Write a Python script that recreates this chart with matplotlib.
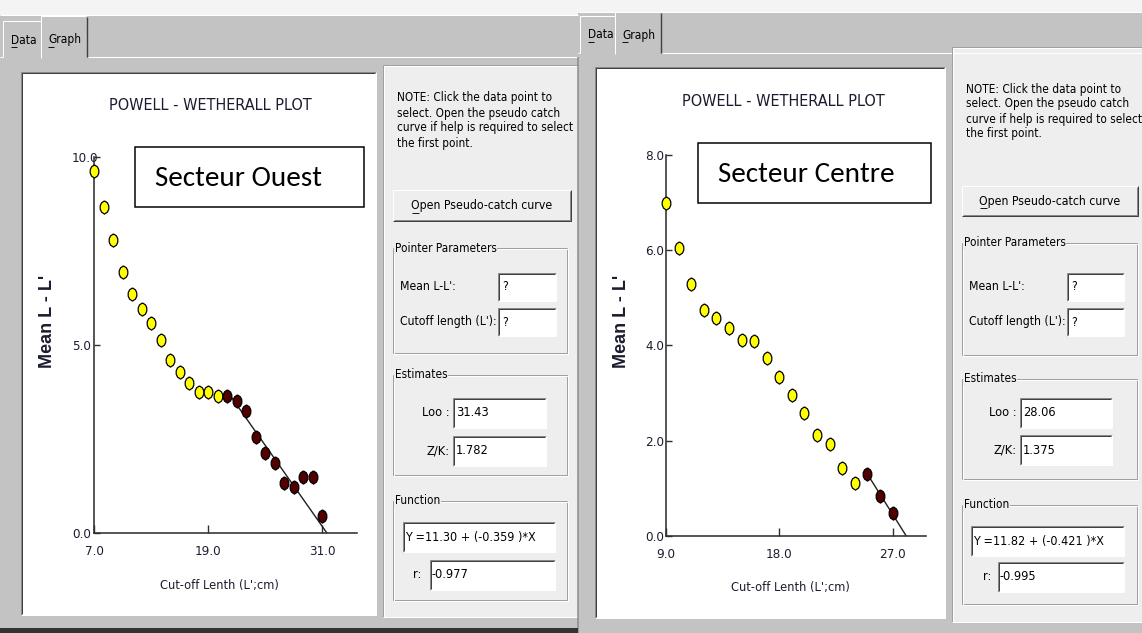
import os
import matplotlib
matplotlib.use("Agg")
import matplotlib.pyplot as plt
from matplotlib.patches import Rectangle
from matplotlib import font_manager as fm

# ---------------------------------------------------------------------------
# Powell-Wetherall data: cut-off length L' (cm) against mean L - L' (cm)
# ---------------------------------------------------------------------------
ouest_cutoff = [7, 8, 9, 10, 11, 12, 13, 14, 15, 16, 17, 18, 19, 20,
                21, 22, 23, 24, 25, 26, 27, 28, 29, 30, 31]
ouest_mean = [9.62, 8.67, 7.78, 6.93, 6.34, 5.94, 5.57, 5.12, 4.59, 4.27,
              3.97, 3.73, 3.73, 3.64, 3.64, 3.50, 3.25, 2.55, 2.13, 1.85,
              1.31, 1.21, 1.47, 1.47, 0.45]
ouest_first_selected = 21
ouest_intercept = 11.30
ouest_slope = -0.359
ouest_loo = "31.43"
ouest_zk = "1.782"
ouest_r = "-0.977"
ouest_xticks = [7.0, 19.0, 31.0]
ouest_yticks = [0.0, 5.0, 10.0]

centre_cutoff = [9, 10, 11, 12, 13, 14, 15, 16, 17, 18, 19, 20, 21, 22,
                 23, 24, 25, 26, 27]
centre_mean = [6.98, 6.05, 5.28, 4.74, 4.58, 4.37, 4.11, 4.09, 3.73, 3.34,
               2.96, 2.57, 2.12, 1.92, 1.42, 1.10, 1.30, 0.84, 0.48]
centre_first_selected = 25
centre_intercept = 11.82
centre_slope = -0.421
centre_loo = "28.06"
centre_zk = "1.375"
centre_r = "-0.995"
centre_xticks = [9.0, 18.0, 27.0]
centre_yticks = [0.0, 2.0, 4.0, 6.0, 8.0]


# ---------------------------------------------------------------------------
# fonts: a narrow sans for the dialog texts, if one is installed
# ---------------------------------------------------------------------------
def find_file(prefixes):
    entries = [(os.path.basename(f.fname).replace(" ", "").replace("_", ""), f.fname)
               for f in fm.fontManager.ttflist]
    skip = ("bold", "italic", "oblique", "light", "thin", "semi", "extra",
            "black", "medium")
    for p in prefixes:
        for base, path in entries:
            if base.startswith(p) and not any(k in base.lower() for k in skip):
                return path
    return None


NARROW_FILE = find_file(["LiberationSansNarrow", "ArialNarrow", "DejaVuSansCondensed",
                         "NotoSans-Condensed", "NotoSansCondensed", "OpenSans-Condensed",
                         "OpenSansCondensed", "RobotoCondensed", "Roboto-Condensed"])


def narrow(size):
    if NARROW_FILE:
        return fm.FontProperties(fname=NARROW_FILE, size=size)
    return fm.FontProperties(family="Liberation Sans", size=size * 1.02)


def pick_family(names):
    for n in names:
        try:
            fm.findfont(fm.FontProperties(family=n), fallback_to_default=False)
            return n
        except Exception:
            pass
    return "DejaVu Sans"


LABEL = pick_family(["Carlito", "Lato", "Open Sans"])

W, H = 1142, 633
PT = 0.72  # points per pixel at 100 dpi

GRAY = "#c3c3c3"
PANEL = "#eeeeee"
LIGHT = "#f4f4f4"
DARK = "#404040"
MID = "#8a8a8a"
INK = "#1c1c30"

fig = plt.figure(figsize=(W / 100, H / 100), dpi=100)
bg = fig.add_axes([0, 0, 1, 1])
bg.set_xlim(0, W)
bg.set_ylim(H, 0)
bg.axis("off")


def rect(x0, y0, x1, y1, fc, ec="none", lw=0, z=1):
    bg.add_patch(Rectangle((x0, y0), x1 - x0, y1 - y0, facecolor=fc,
                           edgecolor=ec, linewidth=lw, zorder=z))


def line(xs, ys, c, lw=1, z=2):
    bg.plot(xs, ys, color=c, lw=lw * PT, solid_capstyle="butt", zorder=z)


def txt(x, y, s, size=8.5, ha="left", z=6, **kw):
    return bg.text(x, y, s, fontproperties=narrow(size), ha=ha, va="center",
                   zorder=z, **kw)


def sunken(x0, y0, x1, y1, fc="white"):
    rect(x0, y0, x1, y1, fc, z=2)
    line([x0, x0, x1], [y1, y0, y0], MID, 1, 3)
    line([x0 + 1, x0 + 1, x1 - 1], [y1 - 1, y0 + 1, y0 + 1], DARK, 1, 3)
    line([x0, x1, x1], [y1, y1, y0], "white", 1, 3)


def raised(x0, y0, x1, y1, fc):
    rect(x0, y0, x1, y1, fc, z=2)
    line([x0, x0, x1], [y1, y0, y0], "white", 1, 3)
    line([x0, x1, x1], [y1, y1, y0], DARK, 1, 3)
    line([x0 + 1, x1 - 1, x1 - 1], [y1 - 1, y1 - 1, y0 + 1], MID, 1, 3)


def group(x0, y0, x1, y1, label):
    for off, c in ((0, "#a0a0a0"), (1, "white")):
        bg.add_patch(Rectangle((x0 + off, y0 + off), x1 - x0, y1 - y0,
                               facecolor="none", edgecolor=c,
                               linewidth=PT, zorder=3))
    txt(x0 + 2, y0, label, 8.5, z=5,
        bbox=dict(boxstyle="square,pad=0.05", fc=PANEL, ec="none"))


def draw_window(p):
    x0, x1 = p["x"]
    # title strip and tab bar
    rect(x0, 0, x1, H, GRAY, z=0)
    rect(x0, 0, x1, p["strip"], LIGHT, z=1)
    line([x0, x1], [p["strip"], p["strip"]], "white", 1)
    dx0, dx1, gx1 = p["tabs"]
    line([gx1, x1], [p["tabline"], p["tabline"]], "white", 1)
    line([x0, dx0], [p["tabline"], p["tabline"]], "white", 1)
    ty_d, ty_g = p["tabtop"]
    line([dx0, dx0, dx1], [p["tabline"], ty_d, ty_d], "white", 1)
    line([dx1, dx1, gx1 - 2], [p["tabline"] + 1, ty_g, ty_g], "white", 1)
    line([gx1 - 1, gx1 - 1], [ty_g + 1, p["tabline"]], DARK, 1.4)
    ty = p["tabtext"]
    txt(dx0 + 8, ty, "Data", 8.6)
    txt(dx1 + 7, ty, "Graph", 8.6)
    line([dx0 + 8, dx0 + 14], [ty + 7, ty + 7], "black", 0.9, 7)
    line([dx1 + 7, dx1 + 13], [ty + 7, ty + 7], "black", 0.9, 7)
    # graph page
    gx0, gy0, gx1_, gy1 = p["graph"]
    sunken(gx0, gy0, gx1_, gy1)
    # side panel
    sx0, sy0, sx1, sy1 = p["side"]
    rect(sx0, sy0, sx1, sy1, PANEL, z=1)
    line([sx0, sx0, sx1], [sy1, sy0, sy0], "#a0a0a0", 1)
    line([sx0 + 1, sx0 + 1, sx1], [sy1, sy0 + 1, sy0 + 1], "white", 1)
    line([sx0, sx1], [sy1, sy1], "white", 1)
    note = ["NOTE: Click the data point to",
            "select. Open the pseudo catch",
            "curve if help is required to select",
            "the first point."]
    for yy, s in zip(p["note_y"], note):
        txt(p["note_x"], yy, s, 8.5)
    bx0, by0, bx1, by1 = p["button"]
    raised(bx0, by0, bx1, by1, PANEL)
    bc = (bx0 + bx1) / 2
    t = txt(bc, (by0 + by1) / 2, "Open Pseudo-catch curve", 8.8, ha="center")
    line([bc - 70, bc - 63], [(by0 + by1) / 2 + 7] * 2, "black", 0.9, 7)
    # pointer parameters
    group(*p["pointer"], "Pointer Parameters")
    lx = p["label_x"]
    mx0, mx1 = p["small_box"]
    for yy, s in ((p["mean_y"], "Mean L-L':"), (p["cut_y"], "Cutoff length (L'):")):
        txt(lx, yy, s, 8.7)
        sunken(mx0, yy - 14, mx1, yy + 14)
        txt(mx0 + 4, yy, "?", 8.7)
    # estimates
    group(*p["estimates"], "Estimates")
    ex0, ex1 = p["est_box"]
    for yy, s, v in ((p["loo_y"], "Loo :", p["loo"]), (p["zk_y"], "Z/K:", p["zk"])):
        txt(p["est_label_x"], yy, s, 9.2, ha="right")
        sunken(ex0, yy - 15, ex1, yy + 15)
        txt(ex0 + 3, yy, v, 9.2)
    # function
    group(*p["function"], "Function")
    qx0, qx1 = p["eq_box"]
    yy = p["eq_y"]
    sunken(qx0, yy - 15, qx1, yy + 15)
    txt(qx0 + 2, yy, p["eq"], 9.0)
    rx0, rx1 = p["r_box"]
    yy = p["r_y"]
    txt(p["r_label_x"], yy, "r:", 9.2)
    sunken(rx0, yy - 15, rx1, yy + 15)
    txt(rx0 + 2, yy, p["r"], 9.2)


def equation(a, b):
    return f"Y ={a:.2f} + ({b:.3f} )*X"


left = dict(x=(0, 578), strip=15, tabline=57, tabs=(3, 41, 88),
            tabtop=(21, 16), tabtext=40,
            graph=(21, 72, 376, 615), side=(383, 65, 578, 617),
            note_x=397, note_y=[98, 113, 128, 143],
            button=(393, 190, 571, 221), pointer=(393, 248, 567, 353),
            label_x=400, small_box=(498, 556), mean_y=287, cut_y=322,
            estimates=(393, 375, 567, 475), est_label_x=450,
            est_box=(453, 546), loo_y=413, zk_y=451,
            function=(393, 501, 567, 600), eq_box=(403, 555), eq_y=537,
            r_label_x=413, r_box=(430, 555), r_y=575,
            loo=ouest_loo, zk=ouest_zk, r=ouest_r,
            eq=equation(ouest_intercept, ouest_slope))

right = dict(x=(578, W), strip=12, tabline=53, tabs=(580, 615, 662),
             tabtop=(16, 12), tabtext=35,
             graph=(595, 67, 945, 618), side=(952, 47, W, 622),
             note_x=966, note_y=[89, 104, 119, 134],
             button=(962, 186, 1138, 216), pointer=(962, 243, 1137, 355),
             label_x=969, small_box=(1067, 1124), mean_y=287, cut_y=322,
             estimates=(962, 379, 1137, 479), est_label_x=1017,
             est_box=(1020, 1112), loo_y=413, zk_y=450,
             function=(962, 505, 1137, 604), eq_box=(971, 1124), eq_y=541,
             r_label_x=983, r_box=(998, 1124), r_y=577,
             loo=centre_loo, zk=centre_zk, r=centre_r,
             eq=equation(centre_intercept, centre_slope))

draw_window(left)
draw_window(right)
# border between the two windows and frame bottom
line([578, 578], [57, 633], MID, 1.5)
rect(0, 628, 578, 633, "#333333", z=2)

# graph headings and sector boxes
for cx, cy in ((210, 106), (783, 102)):
    txt(cx, cy, "POWELL - WETHERALL PLOT", 11.6, ha="center", color=INK)
for (x0, y0, x1, y1), s in (((135, 147, 364, 207), "Secteur Ouest"),
                            ((698, 143, 931, 203), "Secteur Centre")):
    rect(x0, y0, x1, y1, "white", ec="black", lw=1.5 * PT, z=6)
    bg.text(x0 + 20, (y0 + y1) / 2 + 1, s, fontsize=21, family=LABEL,
            ha="left", va="center", color="black", zorder=7)
for cx, cy in ((48, 321), (622, 321)):
    bg.text(cx, cy, "Mean L - L'", fontsize=13, family="Liberation Sans",
            weight="bold", rotation=90, ha="center", va="center",
            color=INK, zorder=6)
for cx, cy in ((219, 585), (790, 588)):
    txt(cx, cy, "Cut-off Lenth (L';cm)", 9.2, ha="center", color=INK)

# data markers: rounded diamond
MARK = [(0, 1), (0.45, 0.7), (0.65, 0.25), (0.65, -0.25), (0.45, -0.7),
        (0, -1), (-0.45, -0.7), (-0.65, -0.25), (-0.65, 0.25), (-0.45, 0.7),
        (0, 1)]


def data_axes(px, py, xlim, ylim, xticks, yticks, ylab_left_px):
    x0, x1 = px
    y0, y1 = py  # pixel rows of ylim[0] and ylim[1]
    ax = fig.add_axes([x0 / W, (H - y0) / H, (x1 - x0) / W, (y0 - y1) / H])
    ax.set_xlim(*xlim)
    ax.set_ylim(*ylim)
    ax.patch.set_alpha(0)
    for s in ("top", "right"):
        ax.spines[s].set_visible(False)
    for s in ("left", "bottom"):
        ax.spines[s].set_color("#303030")
        ax.spines[s].set_linewidth(1.6 * PT)
    ax.spines["left"].set_bounds(ylim[0], yticks[-1])
    ax.set_xticks(xticks)
    ax.set_xticklabels([f"{v:.1f}" for v in xticks])
    ax.set_yticks(yticks)
    ax.set_yticklabels([f"{v:.1f}" for v in yticks], ha="left")
    ax.tick_params(axis="x", direction="in", length=8 * PT, width=1.4 * PT,
                   pad=12 * PT, labelcolor=INK, color="#303030")
    ax.tick_params(axis="y", direction="in", length=6 * PT, width=1.4 * PT,
                   pad=(x0 - ylab_left_px) * PT, labelcolor=INK,
                   color="#303030")
    for lab in ax.get_xticklabels() + ax.get_yticklabels():
        lab.set_fontproperties(narrow(9.6))
    return ax


def draw_series(ax, xs, ys, first_sel, a, b):
    xu = [x for x in xs if x < first_sel]
    yu = [y for x, y in zip(xs, ys) if x < first_sel]
    xsel = [x for x in xs if x >= first_sel]
    ysel = [y for x, y in zip(xs, ys) if x >= first_sel]
    x_end = -a / b
    ax.plot([first_sel, x_end], [a + b * first_sel, a + b * x_end],
            color="#202020", lw=1.0, zorder=2, clip_on=False)
    ax.plot(xu, yu, ls="none", marker=MARK, ms=9.5, mfc="#ffff00",
            mec="black", mew=0.9, zorder=3, clip_on=False)
    ax.plot(xsel, ysel, ls="none", marker=MARK, ms=9.5, mfc="#520000",
            mec="black", mew=0.9, zorder=3, clip_on=False)


ax1 = data_axes((94.3, 357.3), (532.7, 156.7), (7, 34.7), (0, 10),
                ouest_xticks, ouest_yticks, 72)
draw_series(ax1, ouest_cutoff, ouest_mean, ouest_first_selected,
            ouest_intercept, ouest_slope)

ax2 = data_axes((666.1, 926.0), (535.7, 154.9), (9, 29.66), (0, 8),
                centre_xticks, centre_yticks, 645)
draw_series(ax2, centre_cutoff, centre_mean, centre_first_selected,
            centre_intercept, centre_slope)

fig.savefig("out.png", dpi=100)
